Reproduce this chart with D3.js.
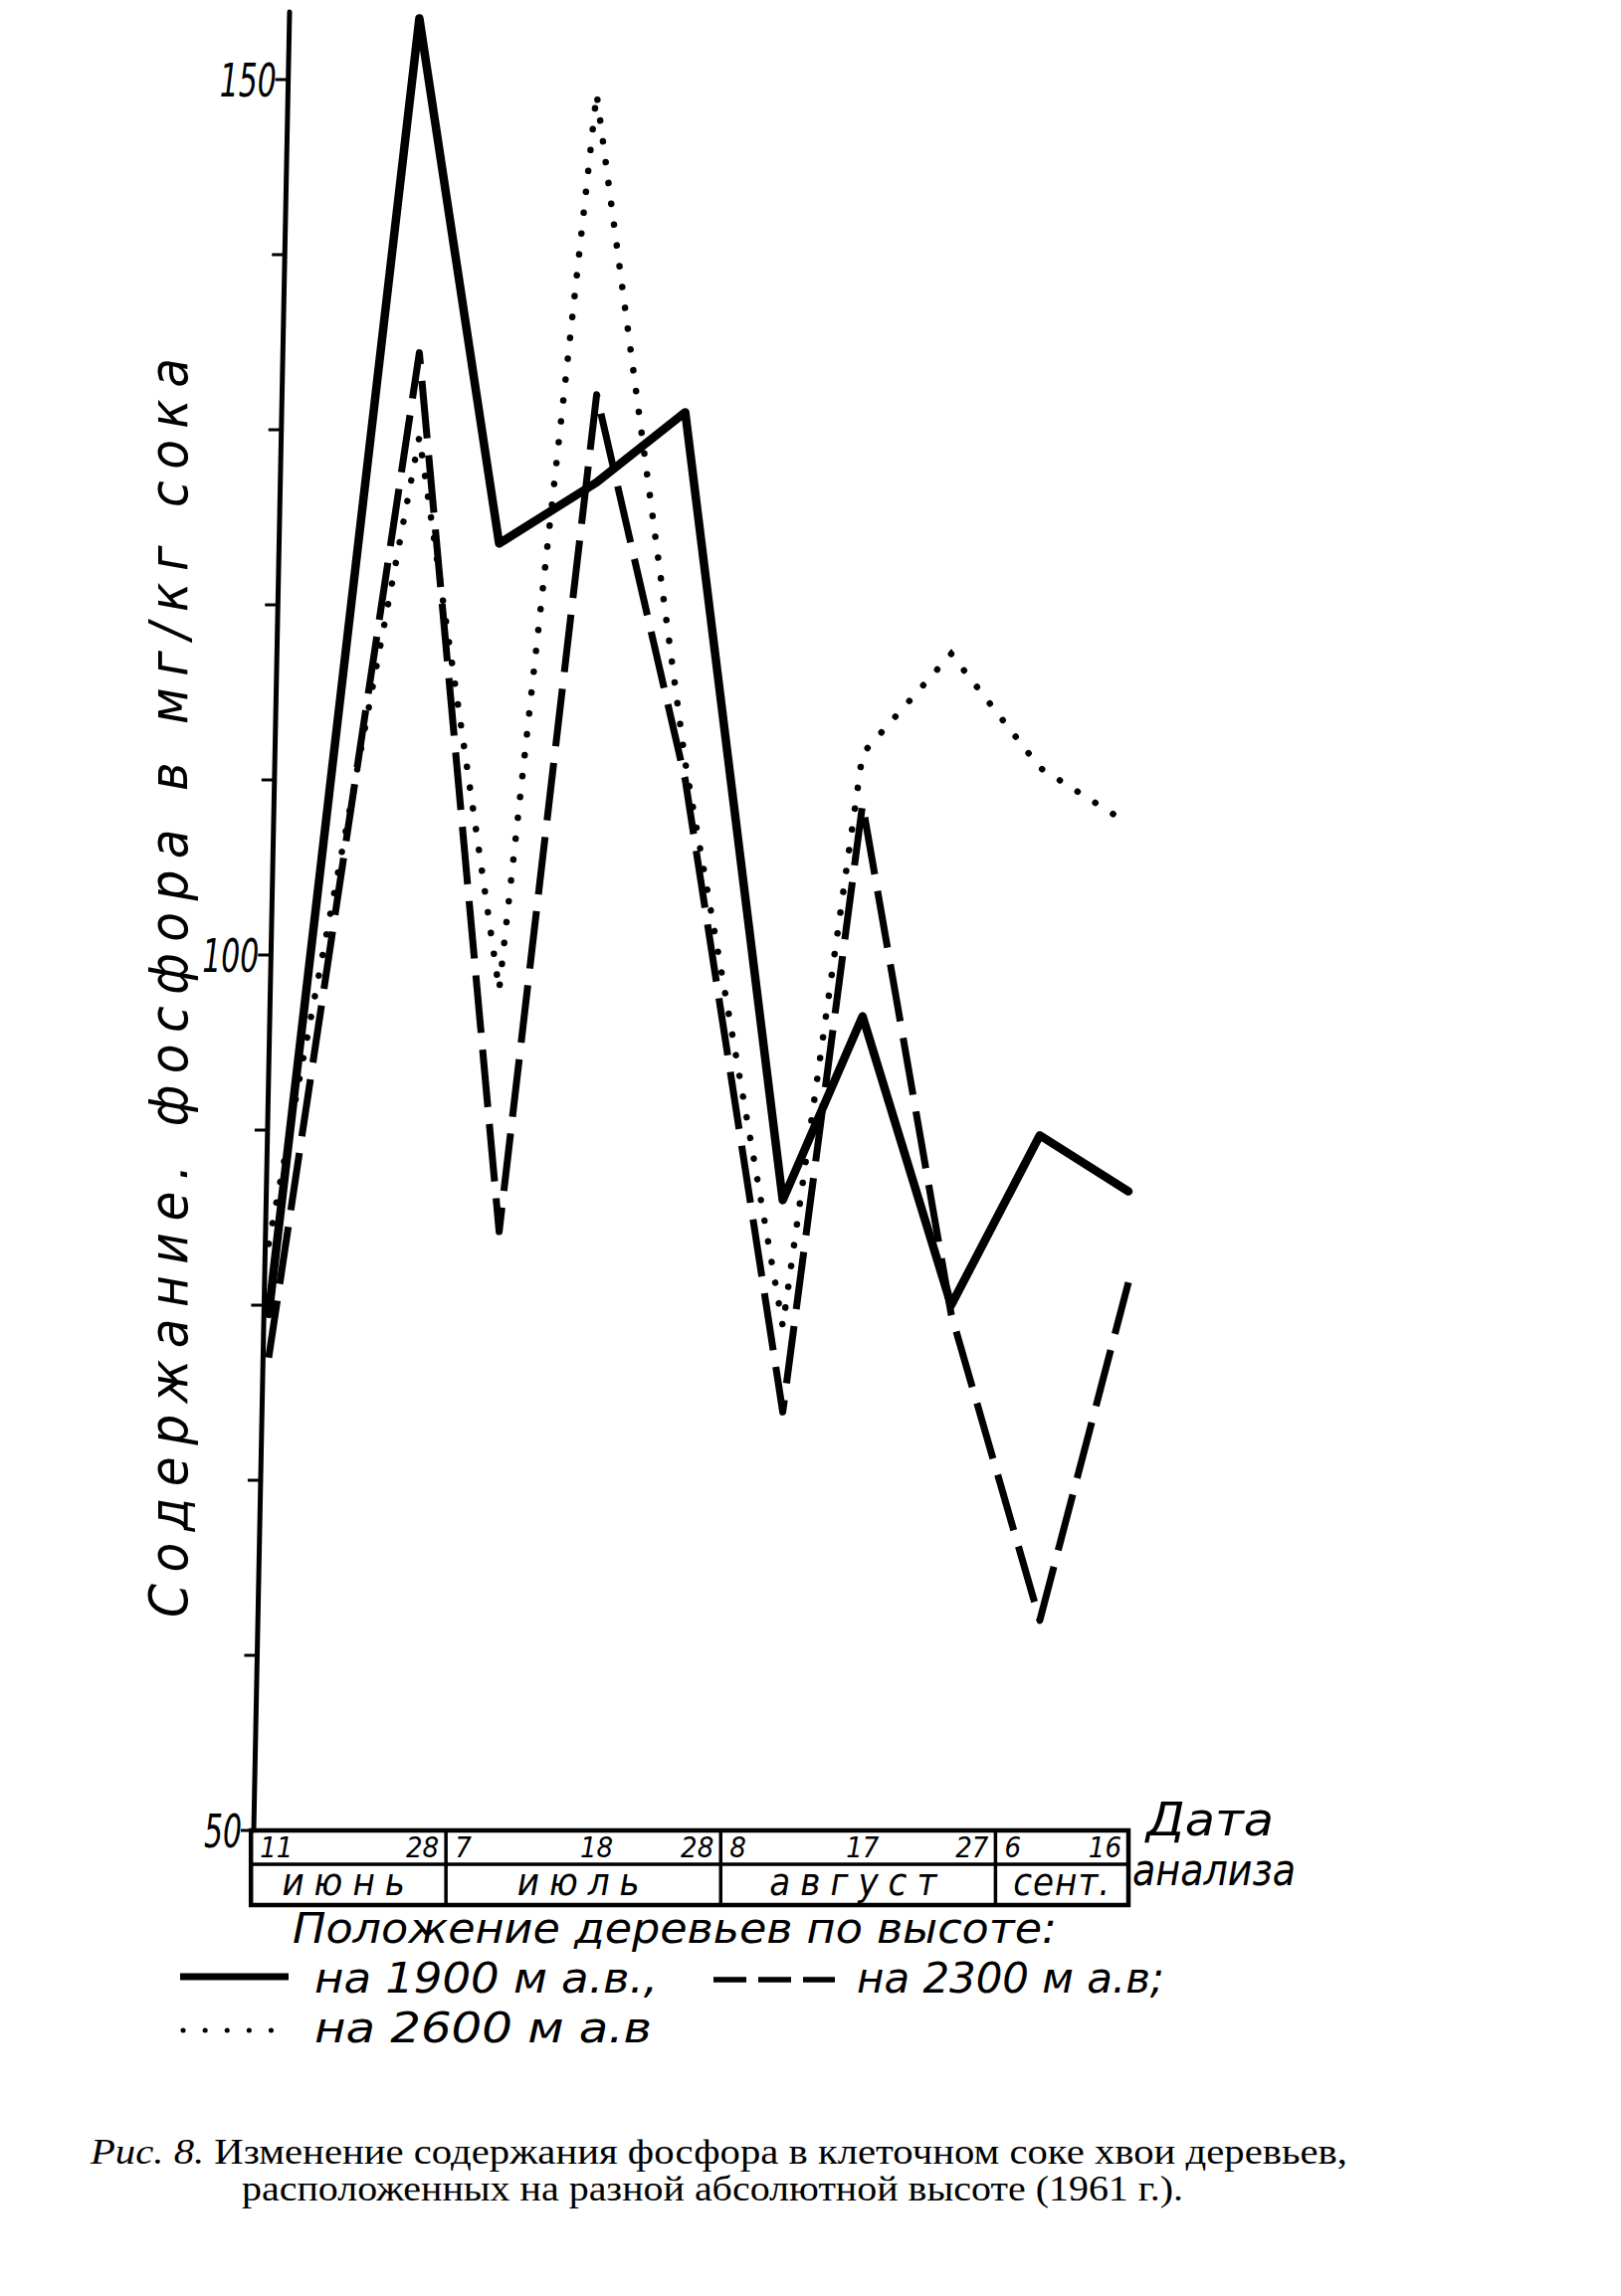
<!DOCTYPE html>
<html><head><meta charset="utf-8">
<script src="https://cdn.jsdelivr.net/npm/d3@7"></script>
<style>
html,body{margin:0;padding:0;background:#fff;}
svg{display:block;background:#fff;}
.hand{font-family:"DejaVu Sans Condensed","Liberation Sans Narrow","DejaVu Sans",sans-serif;font-stretch:condensed;font-style:italic;fill:#000;}
.serif{font-family:"Liberation Serif","DejaVu Serif",serif;fill:#000;}
</style></head><body>
<svg id="chart" width="1629" height="2308"></svg>
<script>
// ---------- data ----------
const dates = ["1961-06-11","1961-06-28","1961-07-07","1961-07-18","1961-07-28","1961-08-08","1961-08-17","1961-08-27","1961-09-06","1961-09-16"];
const dayLabels = ["11","28","7","18","28","8","17","27","6","16"];
const monthNames = ["июнь","июль","август","сент."];
const monthEdges = ["1961-06-09","1961-07-01","1961-08-01","1961-09-01","1961-09-16"];
const p1900 = [79.5, 153.5, 123.5, 127, 131, 86, 96.5, 80, 89.7, 86.5];
const p2300 = [77, 134.4, 84.2, 132, 110, 73.9, 108.6, 79.5, 62, 81.3];
const p2600 = [83.5, 129.6, 98, 149.2, 111, 78.8, 111.5, 117.2, 110.7, 107.5];
const yTicks = [50,60,70,80,90,100,110,120,130,140,150];
const yTickLabels = ["50","100","150"];
const yTitle = "Содержание.  фосфора  в  мг/кг  сока";
const legendTitle = "Положение  деревьев  по  высоте:";
const legendNames = ["на  1900 м а.в.,", "на  2300 м а.в;", "на  2600  м а.в"];
const captionLead = "Рис. 8.";
const caption1 = " Изменение содержания фосфора в клеточном соке хвои деревьев,";
const caption2 = "расположенных на разной абсолютной высоте (1961 г.).";

// ---------- scales ----------
const svg = d3.select("#chart");
const parse = d3.utcParse("%Y-%m-%d");
const x = d3.scaleUtc().domain([parse(dates[0]), parse(dates[dates.length-1])]).range([270, 1134]);
const y = d3.scaleLinear().domain([50, 150]).range([1840, 80]);

// slanted hand-drawn value axis
const axBotX = 255, axTopX = 291, axTopY = 12;
const axisX = py => axBotX + (y(50) - py) / (y(50) - axTopY) * (axTopX - axBotX);

const g = svg.append("g");
g.append("line").attr("x1", axBotX).attr("y1", y(50)).attr("x2", axTopX).attr("y2", axTopY)
  .attr("stroke", "#000").attr("stroke-width", 5).attr("stroke-linecap", "round");
g.selectAll(".tick").data(yTicks).join("line")
  .attr("x1", d => axisX(y(d)) - 13).attr("x2", d => axisX(y(d)))
  .attr("y1", d => y(d)).attr("y2", d => y(d))
  .attr("stroke", "#000").attr("stroke-width", 3);
g.selectAll(".tl").data(yTickLabels).join("text").attr("class", "hand")
  .attr("x", d => axisX(y(+d)) - 12).attr("y", d => y(+d) + 17)
  .attr("text-anchor", "end").attr("font-size", 46)
  .attr("textLength", d => d.length * 19).attr("lengthAdjust", "spacingAndGlyphs").text(d => d);

// y title
g.append("text").attr("class", "hand")
  .attr("transform", `translate(188, ${1626}) rotate(-90)`)
  .attr("font-size", 54).attr("textLength", 1266).attr("lengthAdjust", "spacing")
  .text(yTitle);

// ---------- series ----------
const line = d3.line().x((d, i) => x(parse(dates[i]))).y(d => y(d));
g.append("path").datum(p2600).attr("d", line).attr("fill", "none").attr("stroke", "#000")
  .attr("stroke-width", 6.5).attr("stroke-linecap", "round").attr("stroke-dasharray", "0.1 21");
g.append("path").datum(p2300).attr("d", line).attr("fill", "none").attr("stroke", "#000")
  .attr("stroke-width", 7).attr("stroke-dasharray", "58 17").attr("stroke-linejoin", "round");
g.append("path").datum(p1900).attr("d", line).attr("fill", "none").attr("stroke", "#000")
  .attr("stroke-width", 8.5).attr("stroke-linejoin", "round").attr("stroke-linecap", "round");

// ---------- date table ----------
const tTop = y(50), tMid = 1874, tBot = 1915;
const tLeft = x(parse(monthEdges[0])), tRight = x(parse(monthEdges[monthEdges.length-1]));
const tg = svg.append("g");
tg.append("rect").attr("x", tLeft).attr("y", tTop).attr("width", tRight - tLeft).attr("height", tBot - tTop)
  .attr("fill", "none").attr("stroke", "#000").attr("stroke-width", 4.5);
tg.append("line").attr("x1", tLeft).attr("x2", tRight).attr("y1", tMid).attr("y2", tMid)
  .attr("stroke", "#000").attr("stroke-width", 3.5);
tg.selectAll(".div").data(monthEdges.slice(1, -1)).join("line")
  .attr("x1", d => x(parse(d))).attr("x2", d => x(parse(d)))
  .attr("y1", tTop).attr("y2", tBot).attr("stroke", "#000").attr("stroke-width", 3.5);
tg.selectAll(".mn").data(monthNames).join("text").attr("class", "hand")
  .attr("x", (d, i) => (x(parse(monthEdges[i])) + x(parse(monthEdges[i+1]))) / 2)
  .attr("y", tBot - 10).attr("text-anchor", "middle").attr("font-size", 38)
  .attr("letter-spacing", (d, i) => i === 3 ? 1 : 10).text(d => d);
// day labels: first in month left-aligned, last right-aligned, middle at its date
const monthOf = dates.map(d => d.slice(5, 7));
tg.selectAll(".dl").data(dayLabels).join("text").attr("class", "hand")
  .attr("font-size", 29)
  .attr("y", tMid - 7)
  .attr("text-anchor", (d, i) => {
    const first = i === 0 || monthOf[i-1] !== monthOf[i];
    const last = i === dates.length-1 || monthOf[i+1] !== monthOf[i];
    return first ? "start" : last ? "end" : "middle";
  })
  .attr("x", (d, i) => {
    const m = +monthOf[i] - 6;
    const first = i === 0 || monthOf[i-1] !== monthOf[i];
    const last = i === dates.length-1 || monthOf[i+1] !== monthOf[i];
    if (first) return x(parse(monthEdges[m])) + 9;
    if (last) return x(parse(monthEdges[m+1])) - 7;
    return x(parse(dates[i]));
  })
  .text(d => d);
tg.append("text").attr("class", "hand").attr("x", 1152).attr("y", 1845).attr("font-size", 46)
  .attr("textLength", 128).attr("lengthAdjust", "spacingAndGlyphs").text("Дата");
tg.append("text").attr("class", "hand").attr("x", 1138).attr("y", 1895).attr("font-size", 44)
  .attr("textLength", 164).attr("lengthAdjust", "spacingAndGlyphs").text("анализа");

// ---------- legend ----------
const lg = svg.append("g");
lg.append("text").attr("class", "hand").attr("x", 294).attr("y", 1953).attr("font-size", 42)
  .attr("textLength", 768).attr("lengthAdjust", "spacingAndGlyphs").text(legendTitle);
lg.append("line").attr("x1", 181).attr("x2", 290).attr("y1", 1987).attr("y2", 1987)
  .attr("stroke", "#000").attr("stroke-width", 7);
lg.append("text").attr("class", "hand").attr("x", 316).attr("y", 2003).attr("font-size", 42)
  .attr("textLength", 345).attr("lengthAdjust", "spacingAndGlyphs").text(legendNames[0]);
lg.append("line").attr("x1", 717).attr("x2", 839).attr("y1", 1990).attr("y2", 1990)
  .attr("stroke", "#000").attr("stroke-width", 5.5).attr("stroke-dasharray", "33 12");
lg.append("text").attr("class", "hand").attr("x", 861).attr("y", 2003).attr("font-size", 42)
  .attr("textLength", 309).attr("lengthAdjust", "spacingAndGlyphs").text(legendNames[1]);
lg.append("line").attr("x1", 184).attr("x2", 294).attr("y1", 2041).attr("y2", 2041)
  .attr("stroke", "#000").attr("stroke-width", 5).attr("stroke-linecap", "round").attr("stroke-dasharray", "0.1 22");
lg.append("text").attr("class", "hand").attr("x", 316).attr("y", 2053).attr("font-size", 42)
  .attr("textLength", 339).attr("lengthAdjust", "spacingAndGlyphs").text(legendNames[2]);

// ---------- caption ----------
const c1 = svg.append("text").attr("class", "serif").attr("x", 91).attr("y", 2175).attr("font-size", 35)
  .attr("textLength", 1263).attr("lengthAdjust", "spacingAndGlyphs");
c1.append("tspan").attr("font-style", "italic").text(captionLead);
c1.append("tspan").text(caption1);
svg.append("text").attr("class", "serif").attr("x", 243).attr("y", 2212).attr("font-size", 35)
  .attr("textLength", 946).attr("lengthAdjust", "spacingAndGlyphs").text(caption2);
</script>
</body></html>
